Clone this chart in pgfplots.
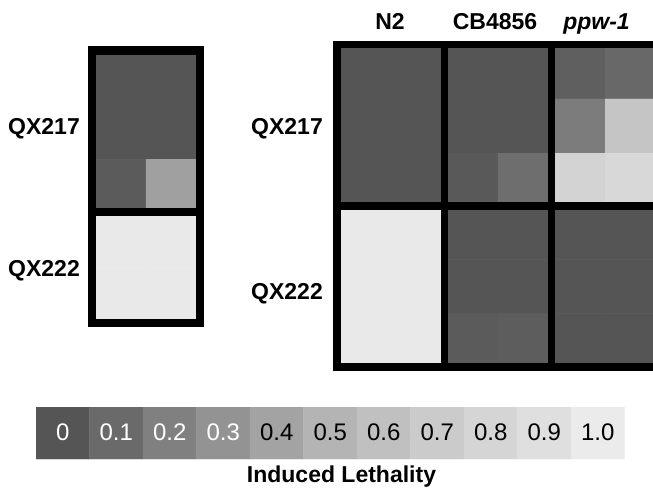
\documentclass[border=0pt]{standalone}
\usepackage{fontspec}
\setmainfont{Liberation Sans}
\usepackage{pgfplots}
\pgfplotsset{compat=1.18}
\pgfplotsset{
  colormap={lethal}{rgb255(0cm)=(85,85,85) rgb255(1cm)=(106,106,106) rgb255(2cm)=(128,128,128)
    rgb255(3cm)=(147,147,147) rgb255(4cm)=(163,163,163) rgb255(5cm)=(180,180,180)
    rgb255(6cm)=(192,192,192) rgb255(7cm)=(203,203,203) rgb255(8cm)=(213,213,213)
    rgb255(9cm)=(223,223,223) rgb255(10cm)=(235,235,235)},
  blk/.style={scale only axis, anchor=south west, ticks=none, axis on top,
    axis line style={line width=#1, black},
    xmin=-0.5, xmax=1.5, ymin=-0.5,
    colormap name=lethal, point meta min=0, point meta max=1},
  blk/.default=7.5pt,
  cells/.style={matrix plot*, mesh/cols=2, point meta=explicit, shader=flat corner}
}
\begin{document}
\begin{tikzpicture}
\useasboundingbox (0,0) rectangle (653pt,-492pt);
\clip (0,0) rectangle (653pt,-492pt);
% ---------- left panel ----------
\begin{axis}[blk=8pt, at={(92pt,-212pt)}, width=108pt, height=161.5pt, ymax=2.5]
\addplot[cells] table[meta=c] {
x y c
0 0 0.03
1 0 0.38
0 1 0.0
1 1 0.0
0 2 0.0
1 2 0.0
};
\end{axis}
\begin{axis}[blk=8pt, at={(92pt,-322.5pt)}, width=108pt, height=110.5pt, ymax=1.5]
\addplot[cells] table[meta=c] {
x y c
0 0 0.98
1 0 0.98
0 1 0.98
1 1 0.98
};
\end{axis}
% ---------- right panel: QX217 ----------
\begin{axis}[blk, at={(337pt,-206pt)}, width=107.5pt, height=161.5pt, ymax=2.5]
\addplot[cells] table[meta=c] {
x y c
0 0 0.0
1 0 0.0
0 1 0.0
1 1 0.0
0 2 0.0
1 2 0.0
};
\end{axis}
\begin{axis}[blk, at={(444.5pt,-206pt)}, width=107pt, height=161.5pt, ymax=2.5]
\addplot[cells] table[meta=c] {
x y c
0 0 0.02
1 0 0.12
0 1 0.0
1 1 0.0
0 2 0.0
1 2 0.0
};
\end{axis}
\begin{axis}[blk, at={(551.5pt,-206pt)}, width=107pt, height=161.5pt, ymax=2.5]
\addplot[cells] table[meta=c] {
x y c
0 0 0.78
1 0 0.83
0 1 0.18
1 1 0.65
0 2 0.05
1 2 0.09
};
\end{axis}
% ---------- right panel: QX222 ----------
\begin{axis}[blk, at={(337pt,-367pt)}, width=107.5pt, height=161pt, ymax=2.5]
\addplot[cells] table[meta=c] {
x y c
0 0 0.98
1 0 0.98
0 1 0.98
1 1 0.98
0 2 0.98
1 2 0.98
};
\end{axis}
\begin{axis}[blk, at={(444.5pt,-367pt)}, width=107pt, height=161pt, ymax=2.5]
\addplot[cells] table[meta=c] {
x y c
0 0 0.03
1 0 0.04
0 1 0.0
1 1 0.0
0 2 0.0
1 2 0.0
};
\end{axis}
\begin{axis}[blk, at={(551.5pt,-367pt)}, width=107pt, height=161pt, ymax=2.5]
\addplot[cells] table[meta=c] {
x y c
0 0 0.0
1 0 0.0
0 1 0.0
1 1 0.0
0 2 0.0
1 2 0.0
};
\end{axis}
% ---------- colour scale ----------
\begin{axis}[scale only axis, anchor=south west, at={(36pt,-459pt)}, width=588.5pt, height=52pt,
  axis on top,
  xmin=-0.5, xmax=10.5, ymin=-0.5, ymax=1.5, axis line style={draw=none},
  colormap name=lethal, point meta min=0, point meta max=1,
  ytick=\empty, xtick={0,1,2,3,4,5,6,7,8,9,10}, major tick length=0pt,
  xticklabels={\textcolor{white}{0},\textcolor{white}{0.1},\textcolor{white}{0.2},\textcolor{white}{0.3},
    0.4,0.5,0.6,0.7,0.8,0.9,1.0},
  xticklabel style={anchor=base, inner sep=0pt, yshift=19pt, font=\fontsize{24}{28}\selectfont}]
\addplot[matrix plot*, mesh/cols=11, point meta=explicit, shader=flat corner] table[meta=c] {
x y c
0 0 0.0
1 0 0.1
2 0 0.2
3 0 0.3
4 0 0.4
5 0 0.5
6 0 0.6
7 0 0.7
8 0 0.8
9 0 0.9
10 0 1.0
0 1 0.0
1 1 0.1
2 1 0.2
3 1 0.3
4 1 0.4
5 1 0.5
6 1 0.6
7 1 0.7
8 1 0.8
9 1 0.9
10 1 1.0
};
\end{axis}
% ---------- labels ----------
\begin{scope}[every node/.style={inner sep=0pt, font=\fontsize{23}{27}\selectfont\bfseries}]
\node[anchor=base east] at (80pt,-134.5pt) {QX217};
\node[anchor=base east] at (80pt,-276pt) {QX222};
\node[anchor=base east] at (323pt,-135pt) {QX217};
\node[anchor=base east] at (323pt,-299pt) {QX222};
\node[anchor=base] at (390pt,-30pt) {N2};
\node[anchor=base] at (495pt,-30pt) {CB4856};
\node[anchor=base] at (596.5pt,-30pt) {\itshape ppw-1};
\node[anchor=base] at (341.5pt,-482pt) {Induced Lethality};
\end{scope}
\end{tikzpicture}
\end{document}
